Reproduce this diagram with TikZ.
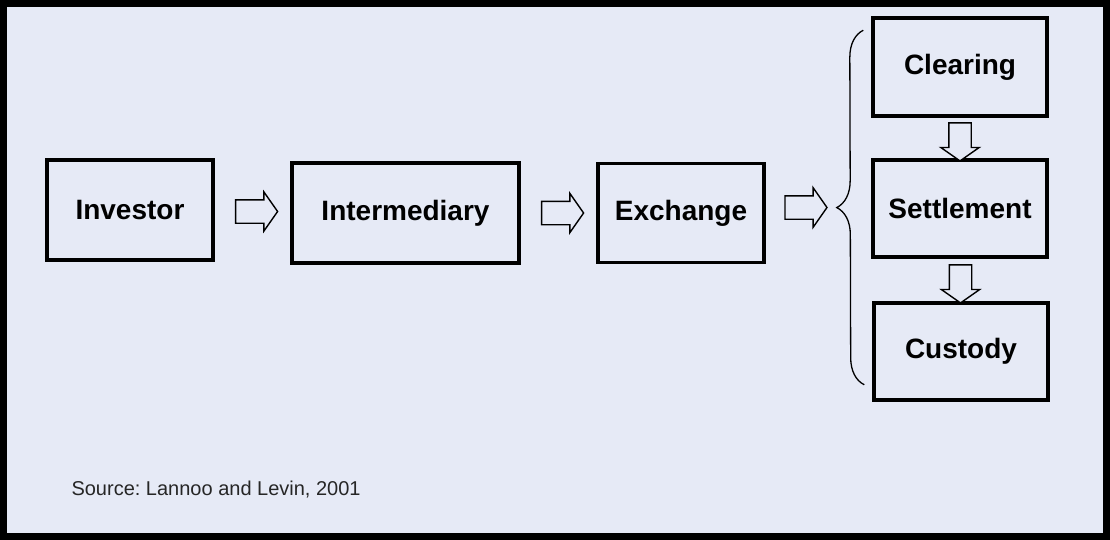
\documentclass[tikz,border=0pt]{standalone}
\usepackage{fontspec}
\setmainfont{Liberation Sans}
\usepackage{tikz}
\usetikzlibrary{calc,shapes.arrows,decorations.pathreplacing}
\definecolor{panel}{RGB}{230,234,246}

\begin{document}
\begin{tikzpicture}[x=1pt,y=-1pt,
    box/.style={draw,line width=3.5pt,inner sep=0pt,
      font=\fontsize{28}{30}\selectfont\bfseries},
    flow/.style={single arrow,draw,line width=1.4pt,fill=panel,inner sep=0pt,inner ysep=11pt,
      minimum height=42pt,single arrow head extend=8pt,single arrow tip angle=110},
    flowdown/.style={flow,inner ysep=0pt,inner xsep=10.5pt,minimum height=38pt,
      shape border rotate=270}]
  \useasboundingbox (0,0) rectangle (1110,540);
  \draw[line width=7pt,fill=panel] (3.5,3.5) rectangle (1106.5,536.5);

  \node[box,minimum width=166pt,minimum height=100pt] (inv) at (130,210) {Investor};
  \node[box,minimum width=227pt,minimum height=100pt] (mid) at (405.5,213) {Intermediary};
  \node[box,minimum width=166pt,minimum height=99pt] (exc) at (681,213) {Exchange};
  \node[box,minimum width=174pt,minimum height=98pt] (clr) at (960,67) {Clearing};
  \node[box,minimum width=174pt,minimum height=97pt] (stl) at (960,208.5) {Settlement};
  \node[box,minimum width=174pt,minimum height=97pt] (cst) at (961,351.5) {Custody};

  \coordinate (btop) at ($(clr.north west)+(-8,14)$);
  \coordinate (bbot) at ($(cst.south west)+(-8,-17)$);
  \draw[line width=1.3pt,decorate,decoration={brace,amplitude=27pt}] (bbot) -- (btop);
  \coordinate (btip) at (838,207.5);

  \node[flow] (a1) at ($(inv.east)!0.5!(mid.west)$) {};
  \node[flow] (a2) at ($(mid.east)!0.5!(exc.west)$) {};
  \node[flow] (a3) at ($(exc.east|-btip)!0.5!(btip)$) {};
  \node[flowdown] (a4) at ($(clr.south)!0.5!(stl.north)$) {};
  \node[flowdown] (a5) at ($(stl.south)!0.5!(cst.north)$) {};

  \node[anchor=base west,font=\fontsize{20}{22}\selectfont,color=black!85] (src) at (68,495)
    {\frenchspacing Source: Lannoo and Levin, 2001};
\end{tikzpicture}
\end{document}
